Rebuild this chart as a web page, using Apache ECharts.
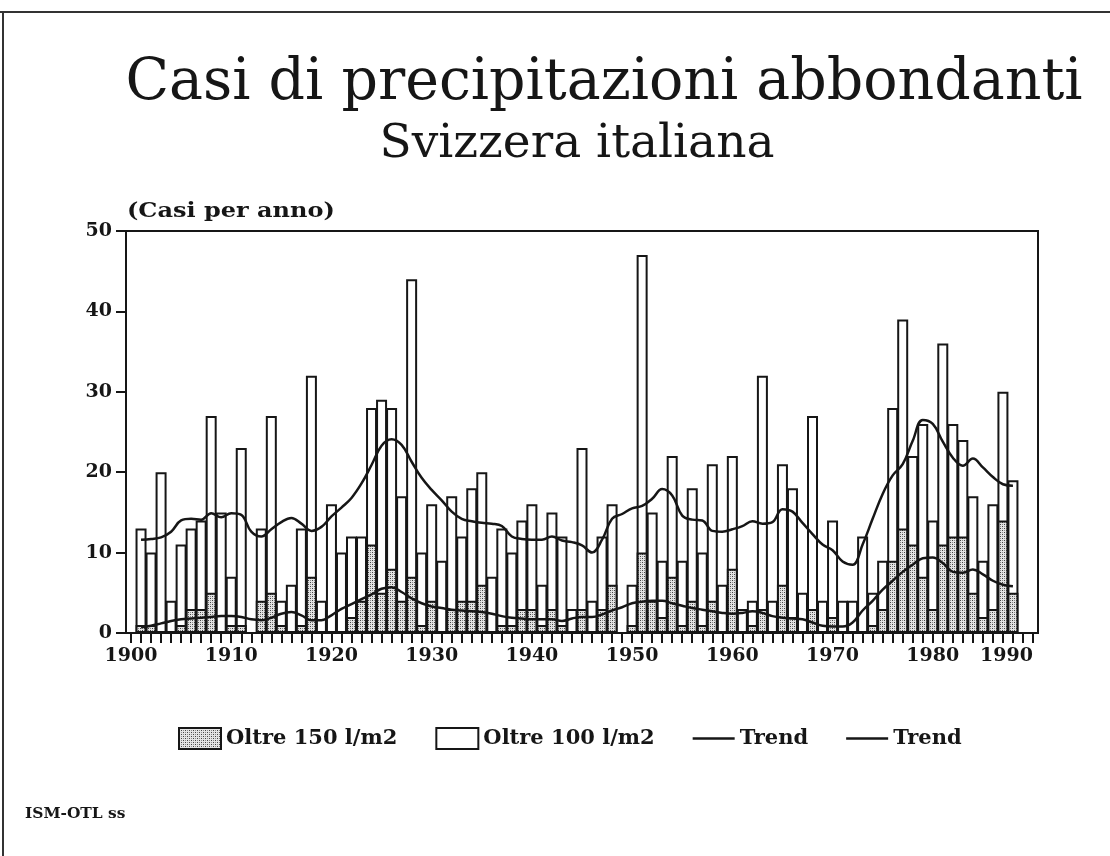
<!DOCTYPE html>
<html>
<head>
<meta charset="utf-8">
<title>Casi di precipitazioni abbondanti</title>
<script src="https://cdn.jsdelivr.net/npm/echarts@6/dist/echarts.min.js"></script>
<style>
  html, body { margin: 0; padding: 0; background: #fff; }
  #BarChart { width: 1110px; height: 856px; }
</style>
</head>
<body>
<div id="BarChart"></div>
<script>
// data: 1901 - 1988 (cases per year)
const firstYear = 1900;
const lastYear = 1990;
const dataStart = 1901;

const oltre100 = [
  13, 10, 20, 4, 11, 13, 14, 27, 15, 7,
  23, 0, 13, 27, 4, 6, 13, 32, 4, 16,
  10, 12, 12, 28, 29, 28, 17, 44, 10, 16,
  9, 17, 12, 18, 20, 7, 13, 10, 14, 16,
  6, 15, 12, 3, 23, 4, 12, 16, 0, 6,
  47, 15, 9, 22, 9, 18, 10, 21, 6, 22,
  3, 4, 32, 4, 21, 18, 5, 27, 4, 14,
  4, 4, 12, 5, 9, 28, 39, 22, 26, 14,
  36, 26, 24, 17, 9, 16, 30, 19
];
const oltre150 = [
  1, 1, 0, 0, 1, 3, 3, 5, 0, 1,
  1, 0, 4, 5, 1, 0, 1, 7, 0, 0,
  0, 2, 4, 11, 5, 8, 4, 7, 1, 4,
  0, 3, 4, 4, 6, 0, 1, 1, 3, 3,
  1, 3, 1, 0, 3, 0, 3, 6, 0, 1,
  10, 4, 2, 7, 1, 4, 1, 4, 0, 8,
  0, 1, 3, 0, 6, 2, 0, 3, 0, 2,
  0, 0, 0, 1, 3, 9, 13, 11, 7, 3,
  11, 12, 12, 5, 2, 3, 14, 5
];
const trend100 = [
  11.6, 11.7, 11.9, 12.6, 14.0, 14.2, 14.1, 14.9, 14.4, 14.9,
  14.7, 12.6, 12.0, 12.9, 13.8, 14.3, 13.6, 12.7, 13.2, 14.5,
  15.6, 16.8, 18.6, 20.9, 23.3, 24.1, 23.4, 21.3, 19.3, 17.8,
  16.5, 15.1, 14.2, 13.9, 13.7, 13.6, 13.3, 12.0, 11.7, 11.6,
  11.6, 12.0, 11.5, 11.3, 10.9, 10.0, 11.6, 14.2, 14.8, 15.5,
  15.8, 16.7, 17.9, 17.1, 14.6, 14.1, 14.0, 12.7, 12.6, 12.9,
  13.3, 13.9, 13.6, 13.8, 15.4, 15.1, 13.7, 12.3, 11.0, 10.3,
  8.9, 8.5, 11.0, 14.2, 17.3, 19.6, 21.0, 23.9, 26.5, 26.0,
  23.8, 21.8, 20.8, 21.7, 20.6, 19.4, 18.5, 18.3
];
const trend150 = [
  0.7, 0.9, 1.2, 1.5, 1.7, 1.8, 1.9, 2.0, 2.1, 2.1,
  2.0, 1.7, 1.6, 1.9, 2.4, 2.6, 2.2, 1.6, 1.6, 2.2,
  3.0, 3.6, 4.2, 4.8, 5.5, 5.7, 5.1, 4.3, 3.7, 3.3,
  3.1, 2.9, 2.8, 2.7, 2.6, 2.4, 2.1, 1.9, 1.8, 1.7,
  1.7, 1.7, 1.5, 1.8, 2.0, 2.0, 2.3, 2.8, 3.2, 3.7,
  3.9, 4.0, 4.0, 3.7, 3.4, 3.1, 2.9, 2.7, 2.5, 2.4,
  2.5, 2.7, 2.5, 2.1, 1.9, 1.8, 1.7, 1.3, 0.9, 0.8,
  0.8, 1.3, 2.8, 4.0, 5.4, 6.5, 7.6, 8.5, 9.3, 9.4,
  8.7, 7.6, 7.5, 7.9, 7.3, 6.5, 6.0, 5.8
];
const yTicks = [0, 10, 20, 30, 40, 50];

// categories 1900 .. 1990, the series padded with null where there is no bar
const years = [];
for (let y = firstYear; y <= lastYear; y++) years.push(String(y));
function pad(arr) {
  const out = years.map(() => null);
  arr.forEach((v, i) => { out[dataStart - firstYear + i] = v; });
  return out;
}

// dotted fill for the "oltre 150" bars
function dotPattern() {
  const c = document.createElement("canvas");
  c.width = 4;
  c.height = 4;
  const ctx = c.getContext("2d");
  ctx.fillStyle = "#e4e4e4";
  ctx.fillRect(0, 0, 4, 4);
  ctx.fillStyle = "#444444";
  ctx.fillRect(0, 0, 1, 1);
  ctx.fillRect(2, 2, 1, 1);
  ctx.fillStyle = "#8a8a8a";
  ctx.fillRect(2, 0, 1, 1);
  ctx.fillRect(0, 2, 1, 1);
  return { image: c, repeat: "repeat" };
}

const el = document.getElementById("BarChart");
const chart = echarts.init(el, null, { renderer: "canvas" });

const ink = "#161616";
const labelFont = "DejaVu Serif";
const lineIcon = "path://M0,0L40,0L40,2.6L0,2.6Z";

const options = {
  backgroundColor: "#ffffff",
  animation: false,
  title: [
    {
      text: "Casi di precipitazioni abbondanti",
      left: 599,
      top: 51,
      textAlign: "center",
      textStyle: { fontFamily: labelFont, fontWeight: "normal", fontSize: 57, color: ink },
    },
    {
      text: "Svizzera italiana",
      left: 572,
      top: 116,
      textAlign: "center",
      textStyle: { fontFamily: labelFont, fontWeight: "normal", fontSize: 47, color: ink },
    },
  ],
  legend: {
    left: 173,
    top: 722,
    itemWidth: 42,
    itemHeight: 21,
    itemGap: 38,
    textStyle: { fontFamily: labelFont, fontWeight: "bold", fontSize: 21, color: ink },
    data: [
      { name: "Oltre 150 l/m2", icon: "rect" },
      { name: "Oltre 100 l/m2", icon: "rect" },
      { name: "Trend 100", icon: lineIcon, itemStyle: { color: ink, borderWidth: 0 } },
      { name: "Trend 150", icon: lineIcon, itemStyle: { color: ink, borderWidth: 0 } },
    ],
    formatter: (name) => (name.indexOf("Trend") === 0 ? "Trend" : name),
  },
  grid: {
    left: 126,
    right: 72,
    top: 231,
    bottom: 223,
    show: true,
    borderColor: ink,
    borderWidth: 2,
  },
  xAxis: {
    type: "category",
    data: years,
    boundaryGap: true,
    axisLine: { lineStyle: { color: ink, width: 2 } },
    axisTick: {
      show: true,
      interval: 0,
      alignWithLabel: true,
      length: 10,
      lineStyle: { color: ink, width: 2 },
    },
    axisLabel: {
      interval: 9,
      margin: 14,
      alignMaxLabel: "right",
      fontFamily: labelFont,
      fontWeight: "bold",
      fontSize: 19,
      color: ink,
    },
  },
  yAxis: {
    type: "value",
    min: yTicks[0],
    max: yTicks[yTicks.length - 1],
    interval: 10,
    splitLine: { show: false },
    axisLine: { show: true, lineStyle: { color: ink, width: 2 } },
    axisTick: { show: true, length: 10, lineStyle: { color: ink, width: 2 } },
    axisLabel: {
      margin: 14,
      fontFamily: labelFont,
      fontWeight: "bold",
      fontSize: 19,
      color: ink,
    },
  },
  graphic: [
    // page frame (top and left edge)
    { type: "line", shape: { x1: 0, y1: 12, x2: 1110, y2: 12 }, style: { stroke: "#333", lineWidth: 2 } },
    { type: "line", shape: { x1: 3, y1: 12, x2: 3, y2: 856 }, style: { stroke: "#333", lineWidth: 2 } },
    {
      type: "text",
      x: 127,
      y: 202,
      scaleX: 1.2,
      style: { text: "(Casi per anno)", fontFamily: labelFont, fontWeight: "bold", fontSize: 20, fill: ink },
    },
    {
      type: "text",
      x: 25,
      y: 807,
      scaleX: 1.03,
      style: { text: "ISM-OTL ss", fontFamily: labelFont, fontWeight: "bold", fontSize: 15, fill: ink },
    },
  ],
  series: [
    {
      name: "Oltre 100 l/m2",
      type: "bar",
      data: pad(oltre100),
      barWidth: 11,
      barGap: "-100%",
      itemStyle: { color: "#ffffff", borderColor: ink, borderWidth: 2 },
      z: 2,
    },
    {
      name: "Oltre 150 l/m2",
      type: "bar",
      data: pad(oltre150),
      barWidth: 11,
      barGap: "-100%",
      itemStyle: { color: dotPattern(), borderColor: ink, borderWidth: 2 },
      z: 3,
    },
    {
      name: "Trend 100",
      type: "line",
      data: pad(trend100),
      smooth: 0.4,
      symbol: "none",
      lineStyle: { color: ink, width: 2.5 },
      itemStyle: { color: ink },
      z: 4,
    },
    {
      name: "Trend 150",
      type: "line",
      data: pad(trend150),
      smooth: 0.4,
      symbol: "none",
      lineStyle: { color: ink, width: 2.5 },
      itemStyle: { color: ink },
      z: 4,
    },
  ],
};
chart.setOption(options);
</script>
</body>
</html>
